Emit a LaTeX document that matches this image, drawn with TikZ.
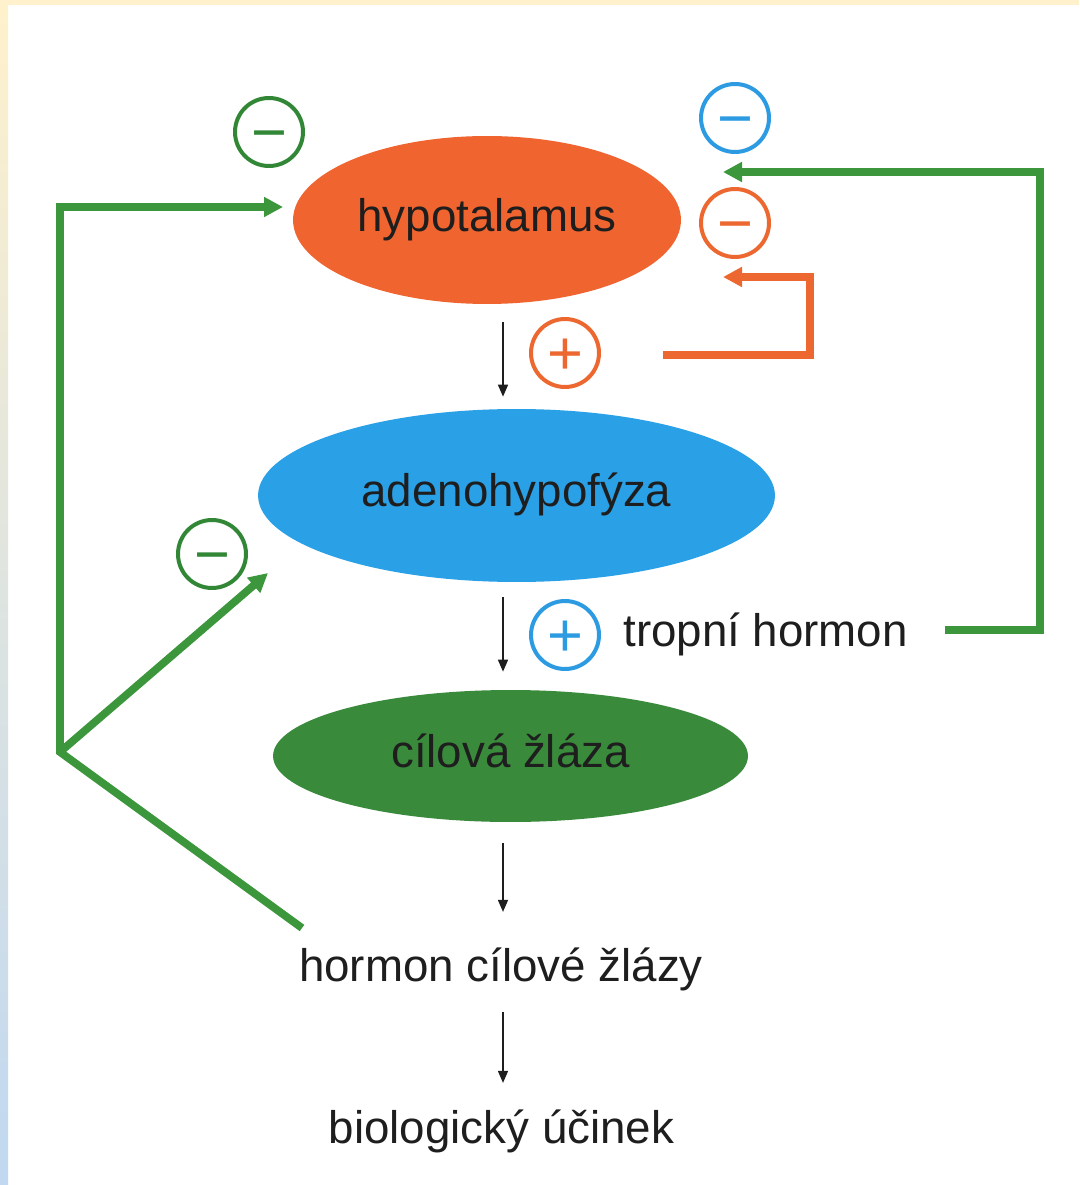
\documentclass[tikz,border=0pt]{standalone}
\usepackage{fontspec}
\setmainfont{Liberation Sans}
\usetikzlibrary{shapes.geometric,arrows.meta}

\definecolor{hypocol}{RGB}{240,100,48}
\definecolor{adenocol}{RGB}{42,160,230}
\definecolor{glandcol}{RGB}{58,138,60}
\definecolor{fbgreen}{RGB}{60,150,60}
\definecolor{fborange}{RGB}{236,104,48}
\definecolor{signgreen}{RGB}{50,135,55}
\definecolor{signblue}{RGB}{45,155,225}
\definecolor{txtcol}{RGB}{30,30,30}
\definecolor{frametop}{RGB}{255,241,204}
\definecolor{framebot}{RGB}{193,216,240}

\begin{document}
\begin{tikzpicture}[x=0.02cm,y=-0.02cm,
  organ/.style={ellipse,inner sep=0pt,text=txtcol,font=\fontsize{26}{30}\selectfont,text height=19.5pt,text depth=6.5pt},
  txt/.style={inner sep=0pt,text=txtcol,font=\fontsize{26}{30}\selectfont,text height=19.5pt,text depth=6.5pt},
  sign/.style={circle,draw=#1,text=#1,line width=0.08cm,minimum size=1.36cm,inner sep=0pt,font=\fontsize{35}{35}\selectfont,text height=24.5pt,text depth=0pt},
  fb/.style={draw=#1,line width=0.155cm,-{Triangle[length=0.38cm,width=0.38cm]}},
  flow/.style={draw=txtcol,line width=0.03cm,-{Triangle[length=0.24cm,width=0.2cm]}}]

% frame
\useasboundingbox (0,0) rectangle (1079,1185);
\fill[white] (0,0) rectangle (1079,1185);
\shade[top color=frametop,bottom color=framebot,middle color={rgb,255:red,222;green,228;blue,224}] (0,0) rectangle (8,1185);
\fill[frametop] (0,0) rectangle (1079,5);

% organs
\node[organ,fill=hypocol,minimum width=7.76cm,minimum height=3.36cm] (hypo) at (487,220) {hypotalamus};
\node[organ,fill=adenocol,minimum width=10.34cm,minimum height=3.46cm] (adeno) at (516.5,495.5) {adenohypofýza};
\node[organ,fill=glandcol,minimum width=9.5cm,minimum height=2.64cm] (gland) at (510.5,756) {cílová žláza};

% labels
\node[txt,anchor=base west] (tropic) at (623,646) {tropní hormon};
\node[txt,anchor=base] (ghorm) at (501,981) {hormon cílové žlázy};
\node[txt,anchor=base] (effect) at (501.5,1143) {biologický účinek};

% signs
\node[sign=signgreen] (s1) at (269,132) {−};
\node[sign=signblue] (s2) at (735,118) {−};
\node[sign=fborange] (s3) at (735,223) {−};
\node[sign=fborange] (s4) at (565,353) {+};
\node[sign=signblue] (s5) at (565,635) {+};
\node[sign=signgreen] (s6) at (212,554) {−};

% main chain
\coordinate (ax) at (503,0);
\draw[flow,shorten <=0.36cm,shorten >=0.24cm] (hypo.south -| ax) -- (adeno.north -| ax);
\draw[flow,shorten <=0.30cm,shorten >=0.36cm] (adeno.south -| ax) -- (gland.north -| ax);
\draw[flow,shorten <=0.42cm,shorten >=0.69cm] (gland.south -| ax) -- (ghorm.north -| ax);
\draw[flow,shorten <=0.39cm,shorten >=0.51cm] (ghorm.south -| ax) -- (effect.north -| ax);

% feedback loops
\coordinate (jn) at (60,752);
\coordinate (gtail) at (302,928);
\coordinate (hin) at (283,207);
\coordinate (ain) at (268,573);
\coordinate (ttail) at (945,630);
\coordinate (tin) at (723,172);
\coordinate (otail) at (663,355);
\coordinate (oin) at (723,277);
\draw[fb=fbgreen] (gtail) -- (jn) |- (hin);
\draw[fb=fbgreen] (jn) -- (ain);
\draw[fb=fbgreen] (ttail) -- (1040,630) |- (tin);
\draw[fb=fborange] (otail) -- (810,355) |- (oin);

\end{tikzpicture}
\end{document}
